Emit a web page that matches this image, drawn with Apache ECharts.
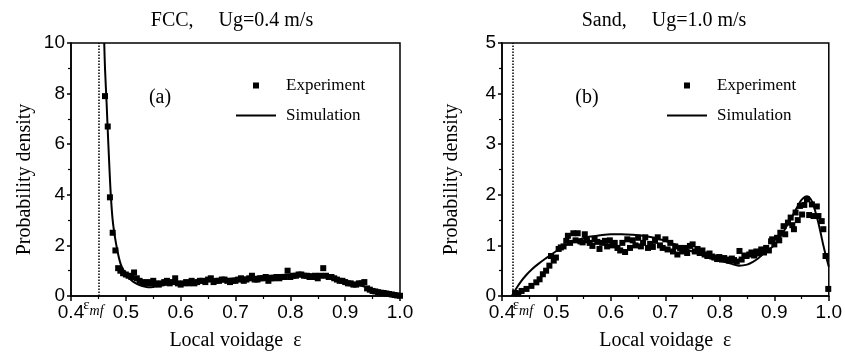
<!DOCTYPE html>
<html>
<head>
<meta charset="utf-8">
<script src="https://cdn.jsdelivr.net/npm/echarts@6/dist/echarts.min.js"></script>
<style>
html,body{margin:0;padding:0;background:#fff;}
#c{width:845px;height:356px;}
</style>
</head>
<body>
<div id="c"></div>
<script>
// ---------- Data ----------
const xTickLabels = ['0.4','0.5','0.6','0.7','0.8','0.9','1.0'];

// Panel (a) FCC, Ug=0.4 m/s
const fccEpsMf = 0.45;
const fccExpX = [0.462,0.467,0.471,0.476,0.481,0.486,0.490,0.495,0.500,0.505,0.510,0.515,0.520,0.525,0.530,0.535,0.540,0.545,0.550,0.555,0.560,0.565,0.570,0.575,0.580,0.585,0.590,0.595,0.600,0.605,0.610,0.615,0.620,0.625,0.630,0.635,0.640,0.645,0.650,0.655,0.660,0.665,0.670,0.675,0.680,0.685,0.690,0.695,0.700,0.705,0.710,0.715,0.720,0.725,0.730,0.735,0.740,0.745,0.750,0.755,0.760,0.765,0.770,0.775,0.780,0.785,0.790,0.795,0.800,0.805,0.810,0.815,0.820,0.825,0.830,0.835,0.840,0.845,0.850,0.855,0.860,0.865,0.870,0.875,0.880,0.885,0.890,0.895,0.900,0.905,0.910,0.915,0.920,0.925,0.930,0.935,0.940,0.945,0.950,0.955,0.960,0.965,0.970,0.975,0.980,0.985,0.990,0.995,1.000];
const fccExpY = [7.9,6.7,3.9,2.5,1.8,1.1,1.0,0.9,0.85,0.8,0.75,0.93,0.7,0.6,0.55,0.5,0.55,0.5,0.6,0.5,0.45,0.5,0.55,0.6,0.5,0.55,0.7,0.5,0.45,0.5,0.55,0.5,0.6,0.5,0.55,0.6,0.6,0.55,0.65,0.7,0.55,0.6,0.6,0.65,0.65,0.6,0.55,0.6,0.6,0.65,0.7,0.6,0.65,0.7,0.8,0.65,0.65,0.7,0.7,0.75,0.6,0.7,0.7,0.75,0.7,0.75,0.75,1.0,0.75,0.8,0.8,0.85,0.85,0.8,0.8,0.75,0.75,0.8,0.7,0.8,1.1,0.8,0.75,0.75,0.7,0.65,0.6,0.6,0.55,0.5,0.5,0.45,0.45,0.5,0.5,0.55,0.3,0.25,0.2,0.18,0.15,0.13,0.12,0.1,0.08,0.06,0.04,0.02,0.01];
const fccSimX = [0.4606,0.462,0.465,0.4667,0.470,0.4727,0.476,0.480,0.485,0.490,0.495,0.500,0.510,0.520,0.530,0.540,0.550,0.560,0.580,0.600,0.650,0.700,0.750,0.800,0.830,0.860,0.880,0.900,0.920,0.940,0.960,0.980,1.000];
const fccSimY = [10.0,9.0,7.6,6.7,5.1,3.95,3.0,2.35,1.75,1.3,1.05,0.88,0.62,0.48,0.39,0.35,0.36,0.40,0.46,0.52,0.60,0.70,0.78,0.85,0.87,0.82,0.72,0.60,0.47,0.33,0.20,0.09,0.0];

// Panel (b) Sand, Ug=1.0 m/s
const sandEpsMf = 0.417;
const sandExpX = [0.424,0.430,0.436,0.445,0.454,0.463,0.469,0.475,0.481,0.487,0.490,0.495,0.499,0.504,0.508,0.513,0.518,0.521,0.525,0.531,0.535,0.539,0.544,0.548,0.552,0.556,0.561,0.566,0.570,0.575,0.579,0.584,0.589,0.593,0.598,0.603,0.607,0.612,0.617,0.621,0.626,0.630,0.635,0.640,0.645,0.650,0.655,0.659,0.663,0.668,0.672,0.677,0.681,0.686,0.690,0.695,0.700,0.704,0.709,0.714,0.718,0.722,0.727,0.731,0.736,0.740,0.745,0.750,0.754,0.759,0.763,0.768,0.772,0.777,0.781,0.786,0.790,0.795,0.799,0.804,0.808,0.813,0.817,0.822,0.826,0.831,0.836,0.840,0.845,0.849,0.854,0.858,0.863,0.867,0.872,0.876,0.881,0.885,0.890,0.894,0.896,0.900,0.905,0.909,0.911,0.917,0.920,0.925,0.930,0.933,0.936,0.939,0.943,0.947,0.951,0.955,0.960,0.964,0.969,0.972,0.978,0.981,0.987,0.990,0.994,0.999];
const sandExpY = [0.06,0.05,0.10,0.14,0.20,0.27,0.33,0.43,0.50,0.60,0.79,0.70,0.76,0.93,0.96,0.98,1.09,1.19,1.05,1.24,1.10,1.24,1.08,1.06,1.22,1.10,1.05,0.99,1.12,1.07,0.93,1.05,1.09,0.98,1.10,1.00,1.05,0.95,0.90,1.05,0.87,1.12,0.95,1.10,1.00,1.15,0.98,1.05,1.16,0.95,1.03,0.97,1.09,1.16,1.00,0.95,1.12,0.92,1.05,0.88,0.98,0.82,0.95,0.88,0.95,0.85,0.99,1.02,0.88,0.93,0.85,0.90,0.82,0.79,0.84,0.78,0.76,0.73,0.77,0.72,0.75,0.72,0.70,0.74,0.71,0.68,0.89,0.72,0.80,0.79,0.82,0.86,0.80,0.88,0.84,0.92,0.86,0.95,0.90,1.08,1.12,1.02,1.15,1.10,1.25,1.38,1.22,1.45,1.55,1.40,1.32,1.65,1.50,1.78,1.61,1.80,1.91,1.60,1.81,1.58,1.77,1.58,1.48,1.32,0.79,0.14];
const sandSimX = [0.418,0.425,0.435,0.445,0.455,0.465,0.480,0.500,0.520,0.540,0.560,0.580,0.600,0.620,0.640,0.660,0.680,0.700,0.720,0.740,0.760,0.780,0.800,0.820,0.835,0.850,0.860,0.870,0.880,0.890,0.900,0.910,0.920,0.930,0.940,0.950,0.960,0.965,0.970,0.975,0.980,0.985,0.990,0.995,1.000];
const sandSimY = [0.0,0.13,0.29,0.42,0.53,0.62,0.74,0.89,1.02,1.11,1.17,1.20,1.22,1.22,1.21,1.19,1.15,1.09,1.01,0.92,0.84,0.76,0.70,0.64,0.60,0.62,0.67,0.74,0.84,0.92,1.00,1.15,1.33,1.52,1.72,1.90,1.97,1.94,1.85,1.68,1.48,1.25,1.00,0.78,0.58];

// ---------- Build ----------
const zip = (xs, ys) => xs.map((x, i) => [x, ys[i]]);
const SERIF = '"Liberation Serif", "Times New Roman", serif';
const SANS = '"Liberation Sans", Arial, sans-serif';

function xAxisCfg(gi) {
  return {
    type: 'value', gridIndex: gi, min: 0.4, max: 1.0, interval: 0.1,
    axisLine: { show: true, onZero: false, lineStyle: { color: '#000', width: 1.5 } },
    axisTick: { show: true, inside: false, length: 5, lineStyle: { color: '#000', width: 1.5 } },
    minorTick: { show: true, splitNumber: 2, length: 3, lineStyle: { color: '#000', width: 1.2 } },
    splitLine: { show: false },
    axisLabel: {
      color: '#000', fontFamily: SANS, fontSize: 19, margin: 7, showMaxLabel: true, showMinLabel: true,
      formatter: v => xTickLabels[Math.round((v - 0.4) * 10)] || ''
    },
    name: 'Local voidage  ε', nameLocation: 'middle', nameGap: 35,
    nameTextStyle: { fontFamily: SERIF, fontSize: 20, color: '#000' }
  };
}
function yAxisCfg(gi, max, interval, gap) {
  return {
    type: 'value', gridIndex: gi, min: 0, max: max, interval: interval,
    axisLine: { show: true, lineStyle: { color: '#000', width: 1.5 } },
    axisTick: { show: true, inside: false, length: 4, lineStyle: { color: '#000', width: 1.5 } },
    minorTick: { show: true, splitNumber: 2, length: 3, lineStyle: { color: '#000', width: 1.2 } },
    splitLine: { show: false },
    axisLabel: { color: '#000', fontFamily: SANS, fontSize: 19, margin: 6 },
    name: 'Probability density', nameLocation: 'middle', nameGap: gap, nameRotate: 90,
    nameTextStyle: { fontFamily: SERIF, fontSize: 20, color: '#000', padding: [0, 20, 0, 0] }
  };
}
function mfLine(val, pad) {
  return {
    silent: true, symbol: 'none', animation: false,
    lineStyle: { type: 'dotted', color: '#000', width: 1.5 },
    label: {
      show: true, position: 'start', distance: 2, padding: pad,
      formatter: '{e|ε}{m|mf}',
      rich: {
        e: { fontFamily: SERIF, fontSize: 15, color: '#000', verticalAlign: 'top', lineHeight: 20 },
        m: { fontFamily: SERIF, fontSize: 14, fontStyle: 'italic', color: '#000', verticalAlign: 'bottom', lineHeight: 20 }
      }
    },
    data: [{ xAxis: val }]
  };
}
function legendCfg(left) {
  return {
    left: left, top: 77, padding: 0, orient: 'vertical', itemWidth: 40, itemHeight: 6, itemGap: 13,
    selectedMode: false, symbolKeepAspect: true,
    data: [
      { name: 'Experiment', icon: 'path://M0,0h6v6h-6z' },
      { name: 'Simulation', icon: 'path://M0,0h40v2h-40z' }
    ],
    itemStyle: { color: '#000', opacity: 1 },
    textStyle: { fontFamily: SERIF, fontSize: 17, color: '#000', padding: [0, 0, 0, 5] }
  };
}

const chart = echarts.init(document.getElementById('c'), null, { renderer: 'canvas' });
chart.setOption({
  animation: false,
  backgroundColor: '#fff',
  grid: [
    { left: 71, top: 43, width: 329, height: 254, show: true, borderColor: '#000', borderWidth: 1.5 },
    { left: 502, top: 43, width: 330, height: 254, show: true, borderColor: '#000', borderWidth: 1.5 }
  ],
  xAxis: [xAxisCfg(0), xAxisCfg(1)],
  yAxis: [yAxisCfg(0, 10, 2, 36), yAxisCfg(1, 5, 1, 40)],
  legend: [legendCfg(236), legendCfg(667)],
  graphic: [
    { type: 'text', x: 232, y: 21, style: { text: 'FCC,     Ug=0.4 m/s', font: '20px ' + SERIF, fill: '#000', textAlign: 'center', textVerticalAlign: 'middle' } },
    { type: 'text', x: 664, y: 21, style: { text: 'Sand,     Ug=1.0 m/s', font: '20px ' + SERIF, fill: '#000', textAlign: 'center', textVerticalAlign: 'middle' } },
    { type: 'text', x: 160, y: 98, style: { text: '(a)', font: '20px ' + SERIF, fill: '#000', textAlign: 'center', textVerticalAlign: 'middle' } },
    { type: 'text', x: 587, y: 98, style: { text: '(b)', font: '20px ' + SERIF, fill: '#000', textAlign: 'center', textVerticalAlign: 'middle' } }
  ],
  series: [
    { name: 'Experiment', type: 'scatter', xAxisIndex: 0, yAxisIndex: 0, symbol: 'rect', symbolSize: 6,
      itemStyle: { color: '#000', opacity: 1 }, data: zip(fccExpX, fccExpY), markLine: mfLine(fccEpsMf, [0, 10, 0, 0]) },
    { name: 'Simulation', type: 'line', xAxisIndex: 0, yAxisIndex: 0, symbol: 'none', smooth: 0.3,
      lineStyle: { color: '#000', width: 2 }, itemStyle: { color: '#000' }, data: zip(fccSimX, fccSimY) },
    { name: 'Experiment', type: 'scatter', xAxisIndex: 1, yAxisIndex: 1, symbol: 'rect', symbolSize: 6,
      itemStyle: { color: '#000', opacity: 1 }, data: zip(sandExpX, sandExpY), markLine: mfLine(sandEpsMf, [0, 0, 0, 20]) },
    { name: 'Simulation', type: 'line', xAxisIndex: 1, yAxisIndex: 1, symbol: 'none', smooth: 0.3,
      lineStyle: { color: '#000', width: 2 }, itemStyle: { color: '#000' }, data: zip(sandSimX, sandSimY) }
  ]
});
</script>
</body>
</html>
